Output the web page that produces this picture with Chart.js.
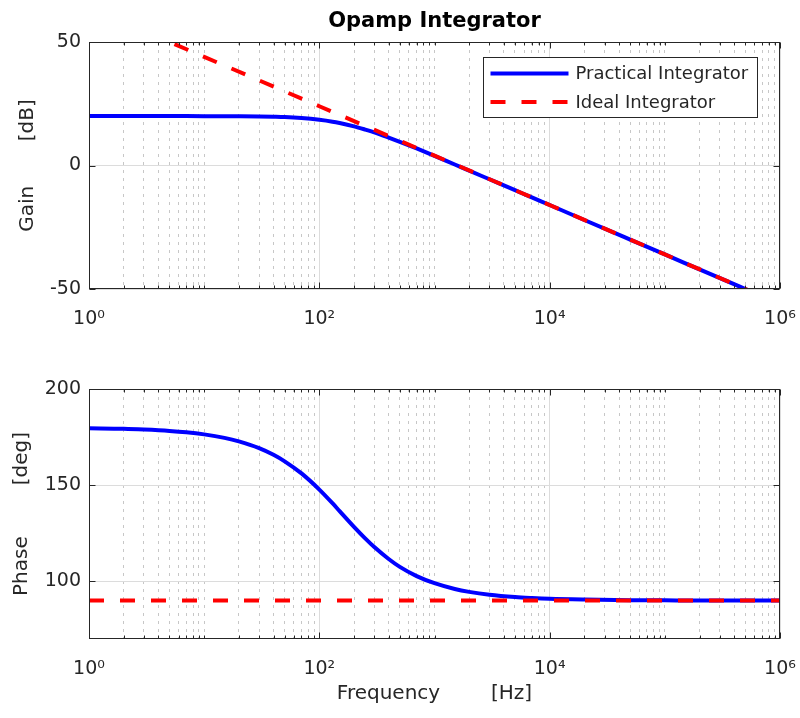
<!DOCTYPE html>
<html>
<head>
<meta charset="utf-8">
<title>Opamp Integrator</title>
<script src="https://cdn.jsdelivr.net/npm/chart.js@4.4.1/dist/chart.umd.min.js"></script>
<style>
    html, body { margin: 0; padding: 0; background: #fff; }
    #page { position: relative; width: 800px; height: 718px; }
    .plot { position: absolute; left: 0; }
    canvas { display: block; }
    .frame { position: absolute; box-sizing: border-box; border: 1px solid #262626; pointer-events: none; }
</style>
</head>
<body>
<div id="page">
    <div class="plot" style="top: 0;"><canvas id="gain-chart" width="800" height="345"></canvas></div>
    <div class="plot" style="top: 345px;"><canvas id="phase-chart" width="800" height="373"></canvas></div>
    <div class="frame" id="gain-frame"></div>
    <div class="frame" id="phase-frame"></div>
</div>
<script>
/* ---- values ---- */
const freqHz = [1, 2, 3, 5, 7, 10, 15, 20, 30, 40, 50, 70, 100, 130, 150, 200, 250, 300, 400, 500,
    700, 1000, 1500, 2000, 3000, 5000, 7000, 1e4, 2e4, 5e4, 1e5, 2e5, 5e5, 1e6];
const practicalGainDb = [20, 20, 20, 20, 19.99, 19.98, 19.96, 19.93, 19.85, 19.73, 19.6, 19.2, 18.5, 17.75,
    17.2, 15.85, 14.55, 13.4, 11.3, 9.6, 6.9, 3.9, 0.4, -2.07, -5.58, -10, -12.93, -16, -22.05, -30, -36,
    -42.05, -50, -56];
const practicalPhaseDeg = [179.6, 179.3, 178.9, 178.2, 177.5, 176.4, 174.6, 172.8, 169.3, 165.8, 162.4,
    156.1, 147.7, 140.6, 136.5, 128.3, 122.3, 117.8, 111.6, 107.5, 102.7, 99.0, 96.0, 94.5, 93.0, 91.8,
    91.3, 90.9, 90.5, 90.2, 90.1, 90.0, 90.0, 90.0];

const idealFreqHz = [1, 10, 100, 1000, 1e4, 1e5, 1e6];
const idealGainDb = [64, 44, 24, 4, -16, -36, -56];
const idealPhaseDeg = [90, 90, 90, 90, 90, 90, 90];

const seriesLabels = ['Practical Integrator', 'Ideal Integrator'];
const xTickValues = [1, 1e2, 1e4, 1e6];
const xTickLabels = ['10⁰', '10²', '10⁴', '10⁶'];
const gainTicks = [-50, 0, 50];
const phaseTicks = [100, 150, 200];

// sub-decade positions, only used for the dotted grid
const xMinorValues = [];
for (let d = 1; d < 1e6; d *= 10) {
    for (let m = 2; m <= 10; m++) {
        const v = d * m;
        if (v < 1e6 && !xTickValues.includes(v)) xMinorValues.push(v);
    }
}

const TEXT = '#262626';
const BLUE = '#0000ff';
const RED = '#ff0000';
const FONT = "'DejaVu Sans', 'Liberation Sans', sans-serif";

Chart.defaults.font.family = FONT;
Chart.defaults.color = TEXT;

const pts = (xs, ys) => xs.map((x, i) => ({ x, y: ys[i] }));

// inward tick marks, MATLAB style
const matlabTicks = {
    id: 'matlabTicks',
    afterDraw(chart, args, opts) {
        const { ctx, chartArea: a, scales } = chart;
        const sx = scales.x, sy = scales.y;
        const L = Math.round(a.left) + 0.5, R = Math.round(a.right) - 0.5;
        const T = Math.round(a.top) + 0.5, B = Math.round(a.bottom) - 0.5;
        const yTicks = (opts && opts.yTicks) || [];
        ctx.save();
        ctx.setLineDash([]);
        ctx.strokeStyle = TEXT;
        ctx.lineWidth = 1;
        const vTick = (v, len) => {
            const p = Math.round(sx.getPixelForValue(v)) + 0.5;
            ctx.beginPath();
            ctx.moveTo(p, B); ctx.lineTo(p, B - len);
            ctx.moveTo(p, T); ctx.lineTo(p, T + len);
            ctx.stroke();
        };
        xTickValues.forEach(v => vTick(v, 6));
        xMinorValues.forEach(v => vTick(v, 3));
        yTicks.forEach(v => {
            const p = Math.round(sy.getPixelForValue(v)) + 0.5;
            ctx.beginPath();
            ctx.moveTo(L, p); ctx.lineTo(L + 6, p);
            ctx.moveTo(R, p); ctx.lineTo(R - 6, p);
            ctx.stroke();
        });
        ctx.restore();
    }
};

// legend box inside the gain axes
const legendBox = {
    id: 'legendBox',
    afterDraw(chart) {
        const { ctx, chartArea: a } = chart;
        const left = Math.round(a.right - 297) + 0.5;
        const top = Math.round(a.top + 15) + 0.5;
        ctx.save();
        ctx.setLineDash([]);
        ctx.fillStyle = '#fff';
        ctx.fillRect(left, top, 274, 60);
        ctx.strokeStyle = TEXT;
        ctx.lineWidth = 1;
        ctx.strokeRect(left, top, 274, 60);
        const rows = [
            { label: seriesLabels[0], color: BLUE, dash: [], y: top + 16 },
            { label: seriesLabels[1], color: RED, dash: [15, 16], y: top + 44.5 }
        ];
        ctx.font = '18px ' + FONT;
        ctx.textBaseline = 'middle';
        ctx.textAlign = 'left';
        rows.forEach(r => {
            ctx.beginPath();
            ctx.setLineDash(r.dash);
            ctx.strokeStyle = r.color;
            ctx.lineWidth = 4;
            ctx.moveTo(left + 7, r.y);
            ctx.lineTo(left + 85, r.y);
            ctx.stroke();
            ctx.setLineDash([]);
            ctx.fillStyle = TEXT;
            ctx.fillText(r.label, left + 92, r.y + 1);
        });
        ctx.restore();
    }
};

function xAxes(axisHeight, title) {
    return {
        x: {
            type: 'logarithmic',
            position: 'bottom',
            min: 1,
            max: 1e6,
            afterBuildTicks: (s) => { s.ticks = xTickValues.map(v => ({ value: v })); },
            afterFit: (s) => { s.height = axisHeight; s.paddingLeft = 0; s.paddingRight = 0; },
            ticks: {
                autoSkip: false,
                maxRotation: 0,
                padding: 19,
                color: TEXT,
                font: { size: 19 },
                callback: (v, i) => xTickLabels[i]
            },
            grid: { color: '#dcdcdc', lineWidth: 1, drawTicks: false },
            border: { display: false },
            title: title
        },
        xMinor: {
            type: 'logarithmic',
            position: 'bottom',
            min: 1,
            max: 1e6,
            afterBuildTicks: (s) => { s.ticks = xMinorValues.map(v => ({ value: v })); },
            afterFit: (s) => { s.height = 0; s.paddingLeft = 0; s.paddingRight = 0; },
            ticks: { display: false },
            grid: { color: 'rgba(0,0,0,0.22)', lineWidth: 1, drawTicks: false },
            border: { display: false, dash: [3, 5] }
        }
    };
}

function yAxis(min, max, ticks, label, titlePad) {
    return {
        min: min,
        max: max,
        afterBuildTicks: (s) => { s.ticks = ticks.map(v => ({ value: v })); },
        afterFit: (s) => { s.width = 89; },
        ticks: { padding: 8, color: TEXT, font: { size: 19 } },
        grid: { color: '#dcdcdc', lineWidth: 1, drawTicks: false },
        border: { display: false },
        title: {
            display: true,
            text: label,
            color: TEXT,
            font: { size: 20 },
            padding: { top: titlePad, bottom: 0 }
        }
    };
}

function lineSet(label, data, color, dash, order) {
    return {
        label: label,
        data: data,
        borderColor: color,
        backgroundColor: color,
        borderWidth: 4,
        borderDash: dash,
        pointRadius: 0,
        fill: false,
        cubicInterpolationMode: 'monotone',
        clip: 0,
        order: order
    };
}

// the axes box sits as a thin bordered div exactly over each chart area
function placeFrame(chart, frameId, offsetTop) {
    const a = chart.chartArea;
    const el = document.getElementById(frameId);
    const l = Math.round(a.left), r = Math.round(a.right);
    const t = Math.round(a.top), b = Math.round(a.bottom);
    el.style.left = l + 'px';
    el.style.top = (offsetTop + t) + 'px';
    el.style.width = (r - l) + 'px';
    el.style.height = (b - t) + 'px';
}

const gainChart = new Chart(document.getElementById('gain-chart'), {
    type: 'line',
    data: {
        datasets: [
            lineSet(seriesLabels[0], pts(freqHz, practicalGainDb), BLUE, [], 2),
            lineSet(seriesLabels[1], pts(idealFreqHz, idealGainDb), RED, [15, 16], 1)
        ]
    },
    options: {
        responsive: false,
        animation: false,
        layout: { padding: { left: 0, right: 20, top: 0, bottom: 0 } },
        plugins: {
            legend: { display: false },
            tooltip: { enabled: false },
            title: {
                display: true,
                text: 'Opamp Integrator',
                fullSize: false,
                color: '#000',
                font: { size: 21, weight: 'bold' },
                padding: { top: 8.9, bottom: 7.9 }
            },
            matlabTicks: { yTicks: gainTicks }
        },
        scales: Object.assign(
            xAxes(56, { display: false }),
            { y: yAxis(-50, 50, gainTicks, 'Gain       [dB]', 16) }
        )
    },
    plugins: [matlabTicks, legendBox]
});

const phaseChart = new Chart(document.getElementById('phase-chart'), {
    type: 'line',
    data: {
        datasets: [
            lineSet(seriesLabels[0], pts(freqHz, practicalPhaseDeg), BLUE, [], 2),
            lineSet(seriesLabels[1], pts(idealFreqHz, idealPhaseDeg), RED, [15, 16], 1)
        ]
    },
    options: {
        responsive: false,
        animation: false,
        layout: { padding: { left: 0, right: 20, top: 44, bottom: 0 } },
        plugins: {
            legend: { display: false },
            tooltip: { enabled: false },
            matlabTicks: { yTicks: phaseTicks }
        },
        scales: Object.assign(
            xAxes(79, {
                display: true,
                text: 'Frequency        [Hz]',
                color: TEXT,
                font: { size: 20 },
                padding: { top: 0, bottom: 12 }
            }),
            { y: yAxis(70, 200, phaseTicks, 'Phase        [deg]', 10) }
        )
    },
    plugins: [matlabTicks]
});

placeFrame(gainChart, 'gain-frame', 0);
placeFrame(phaseChart, 'phase-frame', 345);
</script>
</body>
</html>
